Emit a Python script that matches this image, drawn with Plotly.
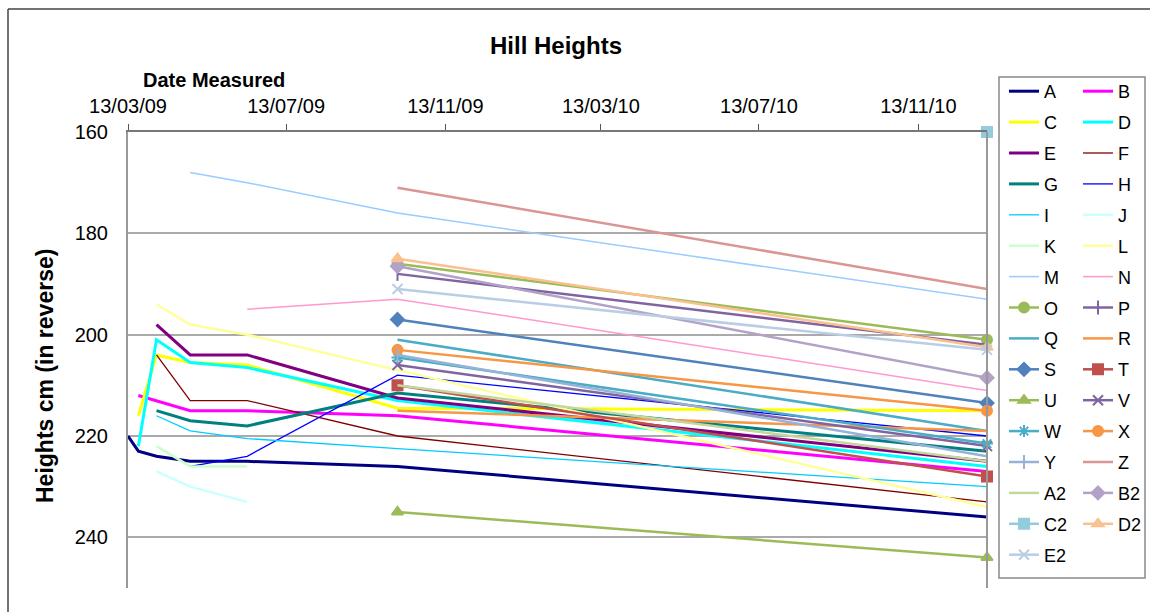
import plotly.graph_objects as go

# Measurement dates (shared x positions); None = hill not measured that day
dates = ["2009-03-13", "2009-03-21", "2009-04-04", "2009-04-30",
         "2009-06-13", "2009-10-07", "2011-01-05"]

tick_dates = ["2009-03-13", "2009-07-13", "2009-11-13",
              "2010-03-13", "2010-07-13", "2010-11-13"]
tick_labels = ["13/03/09", "13/07/09", "13/11/09",
               "13/03/10", "13/07/10", "13/11/10"]

# Heights in cm per hill
A = [220, 223, 224, 225, 225, 226, 236]
B = [None, 212, 213, 215, 215, 216, 227]
C = [None, 216, 204, 205.5, 206, 214.5, 215]
D = [None, 222, 201, 205.5, 206.5, 213, 226]
E = [None, None, 198, 204, 204, 212.5, 225]
F = [None, None, 204, 213, 213, 220, 233]
G = [None, None, 215, 217, 218, 211.5, 223]
H = [None, None, None, 226, 224, 208, 220]
I = [None, None, 216, 219, 220.5, 222.5, 230]
J = [None, None, 227, 230, 233, None, None]
K = [None, None, 222, 226, 226, None, None]
L = [None, None, 194, 198, 200, 207, 234]
M = [None, None, None, 168, 170, 176, 193]
N = [None, None, None, None, 195, 193, 211]
O = [None, None, None, None, None, 186, 201]
P = [None, None, None, None, None, 188, 202]
Q = [None, None, None, None, None, 201, 219]
R = [None, None, None, None, None, 215, 219]
S = [None, None, None, None, None, 197, 213.5]
T = [None, None, None, None, None, 210, 228]
U = [None, None, None, None, None, 235, 244]
V = [None, None, None, None, None, 206, 222]
W = [None, None, None, None, None, 204.5, 221.5]
X = [None, None, None, None, None, 203, 215]
Y = [None, None, None, None, None, 204, 224]
Z = [None, None, None, None, None, 171, 191]
A2 = [None, None, None, None, None, 210, 225]
B2 = [None, None, None, None, None, 186.5, 208.5]
C2 = [None, None, None, None, None, None, 160]
D2 = [None, None, None, None, None, 185, 202.5]
E2 = [None, None, None, None, None, 191, 203]

# name, values, colour, line width, marker symbol (None = line only)
series = [
    ("A", A, "#000080", 3, None),
    ("B", B, "#FF00FF", 3, None),
    ("C", C, "#FFFF00", 3, None),
    ("D", D, "#00FFFF", 3, None),
    ("E", E, "#800080", 3, None),
    ("F", F, "#800000", 1.3, None),
    ("G", G, "#008080", 3, None),
    ("H", H, "#0000FF", 1.3, None),
    ("I", I, "#00CCFF", 1.3, None),
    ("J", J, "#CCFFFF", 2.5, None),
    ("K", K, "#CCFFCC", 2.5, None),
    ("L", L, "#FFFF99", 2.5, None),
    ("M", M, "#99CCFF", 1.5, None),
    ("N", N, "#FF99CC", 1.5, None),
    ("O", O, "#9BBB59", 2.5, "circle"),
    ("P", P, "#8064A2", 2.5, "line-ns"),
    ("Q", Q, "#4BACC6", 2.5, None),
    ("R", R, "#F79646", 2.5, None),
    ("S", S, "#4F81BD", 2.5, "diamond"),
    ("T", T, "#C0504D", 2.5, "square"),
    ("U", U, "#9BBB59", 2.5, "triangle-up"),
    ("V", V, "#8064A2", 2.5, "x-thin"),
    ("W", W, "#4BACC6", 2.5, "asterisk"),
    ("X", X, "#F79646", 2.5, "circle"),
    ("Y", Y, "#95B3D7", 2.5, "line-ns"),
    ("Z", Z, "#D99694", 2.5, None),
    ("A2", A2, "#C3D69B", 2.5, None),
    ("B2", B2, "#B3A2C7", 2.5, "diamond"),
    ("C2", C2, "#93CDDD", 2.5, "square"),
    ("D2", D2, "#FAC08F", 2.5, "triangle-up"),
    ("E2", E2, "#B9CDE5", 2.5, "x-thin"),
]

fig = go.Figure()
for idx, (name, vals, color, width, symbol) in enumerate(series):
    trace = dict(
        x=dates, y=vals, name=name, connectgaps=True,
        line=dict(color=color, width=width),
        mode="lines+markers" if symbol else "lines",
        legend="legend" if idx % 2 == 0 else "legend2",
        legendgroup=name, cliponaxis=False,
    )
    if symbol:
        trace["marker"] = dict(symbol=symbol, size=10, color=color,
                               line=dict(color=color, width=2))
    fig.add_trace(go.Scatter(**trace))

W_PX, H_PX = 1150, 612
L_M, R_M, T_M, B_M = 128, 163, 132, 24
pw, ph = W_PX - L_M - R_M, H_PX - T_M - B_M


def px_x(x):
    return (x - L_M) / pw


def px_y(y):
    return 1 - (y - T_M) / ph


legend_common = dict(
    font=dict(family="Liberation Sans, Arial", size=18, color="#000"),
    bgcolor="rgba(0,0,0,0)", borderwidth=0, tracegroupgap=4.5,
    xanchor="left", yanchor="top", itemwidth=30,
    xref="container", yref="container", maxheight=560,
)

fig.update_layout(
    width=W_PX, height=H_PX,
    margin=dict(l=L_M, r=R_M, t=T_M, b=B_M, autoexpand=False),
    paper_bgcolor="white", plot_bgcolor="white",
    font=dict(family="Liberation Sans, Arial", size=20, color="#000"),
    title=dict(text="<b>Hill Heights</b>", x=556 / W_PX, xanchor="center",
               y=1 - 46 / H_PX, yanchor="middle", yref="container",
               font=dict(size=24)),
    xaxis=dict(
        type="date", side="top", range=["2009-03-13", "2011-01-05"],
        tickvals=tick_dates, ticktext=tick_labels,
        ticks="outside", ticklen=6, tickcolor="#555",
        showline=True, linecolor="#777", linewidth=1.5,
        showgrid=False, zeroline=False, ticklabelstandoff=3,
    ),
    yaxis=dict(
        range=[250, 160], dtick=20, tick0=160,
        showline=True, linecolor="#999", linewidth=2,
        showgrid=True, gridcolor="#aaa", gridwidth=1.5,
        zeroline=False, ticks="", ticklabelstandoff=14,
    ),
    legend=dict(x=(1009 - 5) / W_PX, y=1 - 73 / H_PX, **legend_common),
    legend2=dict(x=(1083 - 5) / W_PX, y=1 - 73 / H_PX, **legend_common),
    annotations=[
        dict(text="<b>Date Measured</b>", xref="paper", yref="paper",
             x=px_x(214), y=px_y(80), showarrow=False,
             font=dict(size=20), xanchor="center", yanchor="middle"),
        dict(text="<b>Heights cm (in reverse)</b>", xref="paper", yref="paper",
             x=px_x(45), y=px_y(376), showarrow=False, textangle=-90,
             font=dict(size=23), xanchor="center", yanchor="middle"),
    ],
    shapes=[
        # right edge of plot area
        dict(type="line", xref="paper", yref="paper", x0=1, x1=1, y0=0, y1=1,
             line=dict(color="#999", width=2)),
        # legend frame
        dict(type="rect", xref="paper", yref="paper",
             x0=px_x(999), x1=px_x(1145), y0=px_y(77), y1=px_y(578),
             line=dict(color="#888", width=1.5)),
        # chart frame (left and top)
        dict(type="line", xref="paper", yref="paper",
             x0=px_x(8), x1=px_x(8), y0=px_y(9), y1=px_y(612),
             line=dict(color="#444", width=1.5)),
        dict(type="line", xref="paper", yref="paper",
             x0=px_x(8), x1=px_x(1150), y0=px_y(9), y1=px_y(9),
             line=dict(color="#444", width=1.5)),
    ],
)

fig.write_html("out.html")
